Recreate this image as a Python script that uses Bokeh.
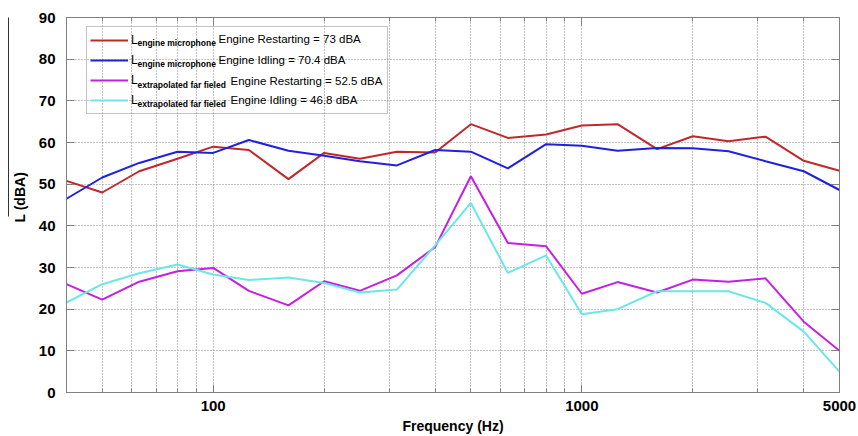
from bokeh.plotting import figure
from bokeh.models import (Range1d, FixedTicker, LinearAxis, LogAxis, Label,
                          Legend, LegendItem, ColumnDataSource)
from bokeh.embed import file_html
from bokeh.resources import INLINE

# ---------------- data ----------------
freq = [40, 50, 63, 80, 100, 125, 160, 200, 250, 315, 400, 500, 630, 800,
        1000, 1250, 1600, 2000, 2500, 3150, 4000, 5000]
mic_restart = [50.8, 48.0, 53.1, 56.1, 59.0, 58.2, 51.2, 57.5, 56.1, 57.8, 57.6,
               64.4, 61.1, 61.9, 64.1, 64.4, 58.4, 61.5, 60.3, 61.4, 55.6, 53.2]
mic_idle = [46.5, 51.6, 55.1, 57.8, 57.5, 60.6, 58.0, 56.8, 55.5, 54.5, 58.2,
            57.8, 53.8, 59.6, 59.2, 58.0, 58.7, 58.6, 57.9, 55.5, 53.1, 48.6]
far_restart = [26.0, 22.3, 26.6, 29.1, 29.9, 24.4, 20.9, 26.7, 24.4, 28.1, 34.9,
               51.9, 35.9, 35.1, 23.7, 26.5, 24.0, 27.1, 26.6, 27.4, 17.0, 10.0]
far_idle = [21.6, 26.0, 28.6, 30.7, 28.3, 27.0, 27.6, 26.3, 24.0, 24.7, 35.3,
            45.5, 28.7, 32.9, 18.8, 20.0, 24.3, 24.3, 24.3, 21.5, 14.6, 5.0]

series = [mic_restart, mic_idle, far_restart, far_idle]
colors = ["#C0282C", "#2020E0", "#C41FE3", "#6CE6E6"]
legend_sub = ["engine microphone", "engine microphone",
              "extrapolated far fieled", "extrapolated far fieled"]
legend_text = ["Engine Restarting = 73 dBA", "Engine Idling = 70.4 dBA",
               "Engine Restarting = 52.5 dBA", "Engine Idling = 46.8 dBA"]

x_major = [100, 1000, 5000]
x_minor = [50, 60, 70, 80, 90, 200, 300, 400, 500, 600, 700, 800, 900,
           2000, 3000, 4000]
y_ticks = [0, 10, 20, 30, 40, 50, 60, 70, 80, 90]

# ---------------- figure ----------------
FONT = "Liberation Sans"
GRID = "#8a8a8a"
AX = "#808080"
p = figure(width=858, height=436, x_axis_type="log",
           x_range=Range1d(40, 5000), y_range=Range1d(0, 90),
           output_backend="svg", toolbar_location=None,
           min_border_left=66, min_border_right=19,
           min_border_top=17, min_border_bottom=44,
           background_fill_color="white", border_fill_color="white")
p.outline_line_color = AX
p.outline_line_width = 1

xt = FixedTicker(ticks=x_major, minor_ticks=x_minor)
yt = FixedTicker(ticks=y_ticks)

xa = p.xaxis[0]
xa.ticker = xt
xa.axis_label = "Frequency (Hz)"
xa.axis_label_text_font = FONT
xa.axis_label_text_font_style = "bold"
xa.axis_label_text_font_size = "14px"
xa.axis_label_standoff = 4
xa.major_label_text_font = FONT
xa.major_label_text_font_style = "bold"
xa.major_label_text_font_size = "15px"
xa.major_label_standoff = 8
xa.major_label_overrides = {100: "100", 1000: "1000", 5000: "5000"}

ya = p.yaxis[0]
ya.ticker = yt
ya.major_label_text_font = FONT
ya.major_label_text_font_style = "bold"
ya.major_label_text_font_size = "15px"
ya.major_label_standoff = 11
ya.axis_label = "\u00a0\u00a0\u00a0\u00a0L (dBA)"
ya.axis_label_text_font = FONT
ya.axis_label_text_font_style = "bold"
ya.axis_label_text_font_size = "14px"
ya.axis_label_standoff = 8

for ax in (xa, ya):
    ax.axis_line_color = AX
    ax.major_tick_line_color = AX
    ax.minor_tick_line_color = AX
    ax.major_tick_in = 8
    ax.major_tick_out = 0
    ax.minor_tick_in = 4
    ax.minor_tick_out = 0
    ax.major_label_text_color = "black"
    ax.axis_label_text_color = "black"
ya.minor_tick_line_color = None

# mirrored axes (box style)
top = LogAxis(ticker=xt, major_label_text_color=None,
              major_label_text_font_size="1px", major_label_standoff=0,
              axis_line_color=AX, major_tick_line_color=AX,
              minor_tick_line_color=AX, major_tick_in=8,
              major_tick_out=0, minor_tick_in=4, minor_tick_out=0)
right = LinearAxis(ticker=yt, major_label_text_color=None,
                   major_label_text_font_size="1px", major_label_standoff=0,
                   axis_line_color=AX, major_tick_line_color=AX,
                   minor_tick_line_color=None, major_tick_in=8,
                   major_tick_out=0)
p.add_layout(top, "above")
p.add_layout(right, "right")

# thin bar beside the y-axis title (as in the source image)
bar = LinearAxis(ticker=FixedTicker(ticks=[]), bounds=(42.2, 90),
                 axis_line_color="#333333", axis_line_width=1,
                 major_tick_line_color=None, minor_tick_line_color=None,
                 major_label_text_font_size="1px", major_label_standoff=0)
p.add_layout(bar, "left")

# grid
p.xgrid.ticker = xt
p.ygrid.ticker = yt
p.xgrid.grid_line_color = GRID
p.xgrid.grid_line_dash = "1 2"
p.xgrid.minor_grid_line_color = GRID
p.xgrid.minor_grid_line_dash = "1 2"
p.ygrid.grid_line_color = GRID
p.ygrid.grid_line_dash = "1 2"

# data lines
renderers = []
for ys, c in zip(series, colors):
    src = ColumnDataSource(dict(x=freq, y=ys))
    renderers.append(p.line("x", "y", source=src, line_color=c, line_width=2))

# opaque white backing for the legend box (hides grid beneath)
p.add_layout(Label(x=170, y=323, x_units="screen", y_units="screen",
                   text=" ", text_align="center", text_baseline="middle",
                   text_font_size="1px", text_alpha=0,
                   background_fill_color="white", background_fill_alpha=1.0,
                   padding=(41, 148)))

# legend: border + line samples + "L"; subscripts/text added as labels
legend = Legend(items=[LegendItem(label="L", renderers=[r]) for r in renderers],
                location=(20, 278), orientation="vertical",
                padding=3, spacing=0, margin=0,
                glyph_width=38, glyph_height=20,
                label_height=20, label_width=253, label_standoff=3,
                label_text_font=FONT, label_text_font_size="12px",
                label_text_color="black",
                border_line_color=GRID, border_line_width=1,
                background_fill_color="white", background_fill_alpha=0.0)
p.add_layout(legend, "center")

row_y = [353.7, 333.0, 312.0, 292.5]
text_x = [152, 152, 164, 164]
for i in range(4):
    yy = row_y[i]
    p.add_layout(Label(x=71, y=yy - 4, x_units="screen", y_units="screen",
                       text=legend_sub[i], text_baseline="middle",
                       text_font=FONT, text_font_style="bold",
                       text_font_size="8.5px", text_color="black"))
    p.add_layout(Label(x=text_x[i], y=yy, x_units="screen", y_units="screen",
                       text=legend_text[i], text_baseline="middle",
                       text_font=FONT, text_font_size="11.5px",
                       text_color="black"))

open("out.html", "w").write(file_html(p, INLINE))
